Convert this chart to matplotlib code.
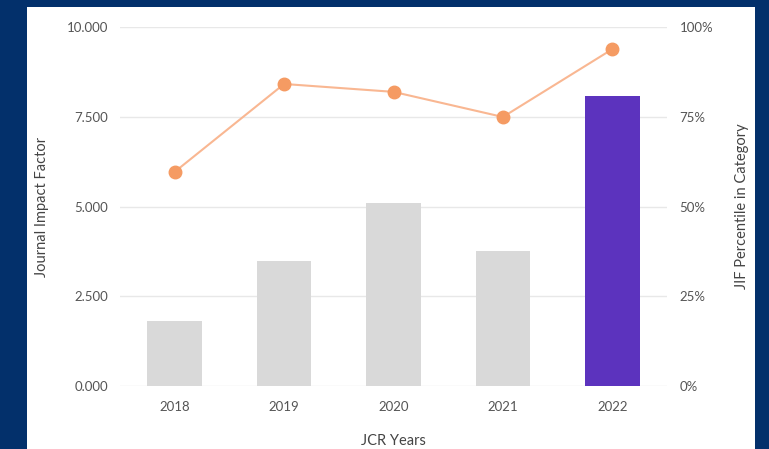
import matplotlib
matplotlib.use("Agg")
import matplotlib.pyplot as plt
from matplotlib.patches import Rectangle

years = ["2018", "2019", "2020", "2021", "2022"]
jif = [1.82, 3.48, 5.10, 3.76, 8.08]
percentile = [59.7, 84.2, 82.0, 75.0, 93.9]
left_ticks = [0, 2.5, 5, 7.5, 10]
left_labels = ["0.000", "2.500", "5.000", "7.500", "10.000"]
right_ticks = [0, 25, 50, 75, 100]
right_labels = ["0%", "25%", "50%", "75%", "100%"]
bar_colors = ["#d9d9d9", "#d9d9d9", "#d9d9d9", "#d9d9d9", "#5c33be"]

plt.rcParams['font.family'] = ['Lato', 'DejaVu Sans']

fig = plt.figure(figsize=(7.69, 4.49), dpi=100)
fig.patch.set_facecolor("#03306b")
panel = Rectangle((27/769, 0), (755-27)/769, 1 - 7/449,
                  transform=fig.transFigure, facecolor="white",
                  edgecolor="none", zorder=-10)
fig.add_artist(panel)

ax = fig.add_axes([120/769, 1 - 386/449, (667-120)/769, (386-27.3)/449])
ax.set_facecolor("none")
x = list(range(len(years)))
ax.bar(x, jif, width=0.5, color=bar_colors, zorder=2)
ax.set_xlim(-0.5, 4.5)
ax.set_ylim(0, 10)
ax.set_yticks(left_ticks)
ax.set_yticklabels(left_labels)
ax.set_xticks(x)
ax.set_xticklabels(years)
ax.grid(axis="y", color="#e8e8e8", linewidth=1, zorder=0)
ax.set_axisbelow(True)
for s in ax.spines.values():
    s.set_visible(False)
ax.tick_params(axis="both", length=0, labelsize=9.5, colors="#555555")
ax.tick_params(axis="y", pad=8.5)
ax.tick_params(axis="x", pad=11)
ax.set_ylabel("Journal Impact Factor", fontsize=10.5, color="#444444", labelpad=12.5)
ax.set_xlabel("JCR Years", fontsize=10.5, color="#444444", labelpad=15)

ax2 = ax.twinx()
ax2.set_facecolor("none")
ax2.plot(x, percentile, color="#f9b792", linewidth=1.5, zorder=3)
ax2.plot(x, percentile, linestyle="none", marker="o", markersize=9,
         color="#f59b63", zorder=4)
ax2.set_ylim(0, 100)
ax2.set_yticks(right_ticks)
ax2.set_yticklabels(right_labels)
for s in ax2.spines.values():
    s.set_visible(False)
ax2.tick_params(axis="y", length=0, labelsize=9.5, colors="#555555", pad=9)
ax2.set_ylabel("JIF Percentile in Category", fontsize=10.5, color="#444444", labelpad=16)

fig.savefig("out.png", dpi=100, facecolor=fig.get_facecolor())
